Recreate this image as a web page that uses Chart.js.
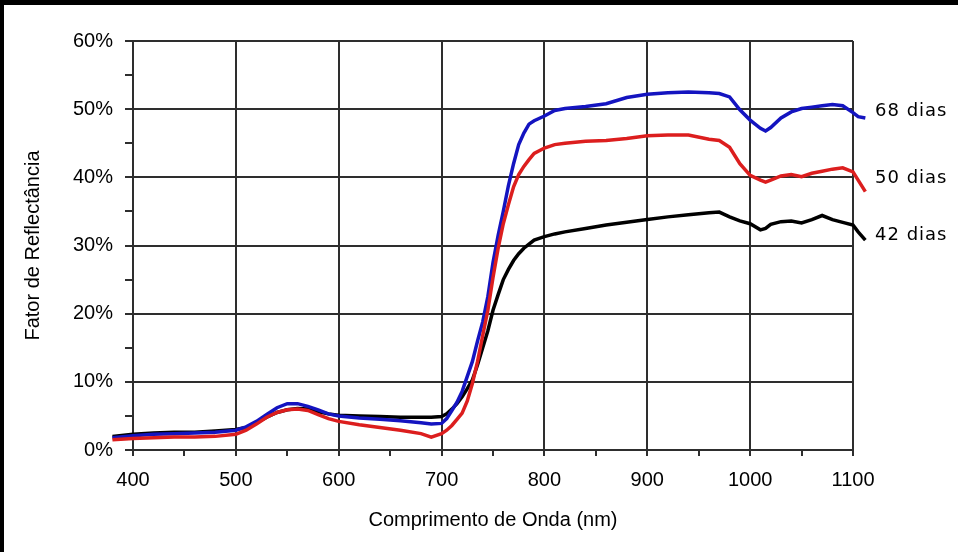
<!DOCTYPE html>
<html>
<head>
<meta charset="utf-8">
<script src="https://cdn.jsdelivr.net/npm/chart.js@4"></script>
<style>
  html, body { margin: 0; padding: 0; background: #000; width: 958px; height: 552px; overflow: hidden; }
  #wrap { position: absolute; left: 4px; top: 5px; width: 954px; height: 547px; background: #fff; }
  canvas { display: block; }
</style>
</head>
<body>
<div id="wrap"><canvas id="rChart" width="954" height="547"></canvas></div>
<script>
// Reflectance curves (%)
var wavelengths = [380, 400, 420, 440, 460, 480, 500, 510, 520, 530, 540, 550, 560, 570, 580, 590,
  600, 620, 640, 660, 680, 690, 700, 705, 710, 715, 720, 725, 730, 735, 740, 745, 750, 755, 760,
  765, 770, 775, 780, 785, 790, 800, 810, 820, 840, 860, 880, 900, 920, 940, 960, 970, 980, 990,
  1000, 1010, 1015, 1020, 1030, 1040, 1050, 1060, 1070, 1080, 1090, 1100, 1105, 1112];

var dias68 = [1.8, 2.1, 2.3, 2.4, 2.5, 2.6, 2.9, 3.4, 4.2, 5.2, 6.2, 6.8, 6.8, 6.4, 5.9, 5.3,
  5.0, 4.7, 4.5, 4.3, 4.0, 3.8, 3.9, 4.6, 5.8, 7.0, 8.6, 10.8, 13.0, 16.0, 18.8, 22.5, 27.5, 31.5, 35.0,
  38.8, 42.0, 44.8, 46.5, 47.8, 48.3, 49.0, 49.8, 50.1, 50.4, 50.8, 51.7, 52.2, 52.4, 52.5, 52.4, 52.3, 51.8, 49.9,
  48.4, 47.2, 46.8, 47.3, 48.7, 49.6, 50.1, 50.3, 50.5, 50.7, 50.5, 49.5, 48.9, 48.7];

var dias50 = [1.5, 1.7, 1.8, 1.9, 1.9, 2.0, 2.3, 2.9, 3.8, 4.8, 5.5, 5.9, 6.0, 5.8, 5.2, 4.6,
  4.2, 3.7, 3.3, 2.9, 2.4, 1.9, 2.4, 2.9, 3.6, 4.5, 5.4, 7.2, 9.8, 13.0, 16.8, 20.5, 25.3, 29.6, 33.2,
  36.0, 38.6, 40.4, 41.6, 42.6, 43.5, 44.3, 44.8, 45.0, 45.3, 45.4, 45.7, 46.1, 46.2, 46.2, 45.6, 45.4, 44.4, 42.0,
  40.3, 39.6, 39.3, 39.6, 40.2, 40.4, 40.1, 40.6, 40.9, 41.2, 41.4, 40.8, 39.6, 37.9];

var dias42 = [2.0, 2.3, 2.5, 2.6, 2.6, 2.8, 3.0, 3.3, 4.0, 4.8, 5.5, 5.9, 6.1, 6.0, 5.6, 5.3,
  5.1, 5.0, 4.9, 4.8, 4.8, 4.8, 4.9, 5.3, 6.0, 6.8, 7.8, 9.0, 10.3, 12.5, 15.0, 17.5, 20.5, 22.8, 25.0,
  26.5, 27.8, 28.8, 29.6, 30.2, 30.8, 31.3, 31.7, 32.0, 32.5, 33.0, 33.4, 33.8, 34.2, 34.5, 34.8, 34.9, 34.2, 33.6,
  33.2, 32.3, 32.5, 33.1, 33.5, 33.6, 33.3, 33.8, 34.4, 33.8, 33.4, 33.0, 32.0, 30.8];

var seriesNames = ['50 dias', '68 dias', '42 dias'];

function toPoints(values) {
  return wavelengths.map(function(w, i) { return { x: w, y: values[i] }; });
}

var gridColor = '#2e2e2e';
var textFont = { family: "'Liberation Sans', Arial, sans-serif", size: 20 };

// writes the "xx dias" name to the right of each curve
var endLabels = {
  id: 'endLabels',
  afterDatasetsDraw: function(chart, args, opts) {
    var ctx = chart.ctx;
    var yScale = chart.scales.y;
    ctx.save();
    ctx.font = "18px 'DejaVu Sans', Verdana, sans-serif";
    ctx.letterSpacing = '1px';
    ctx.fillStyle = '#000';
    ctx.textAlign = 'left';
    ctx.textBaseline = 'middle';
    chart.data.datasets.forEach(function(ds, i) {
      ctx.fillText(ds.label, chart.chartArea.right + opts.gap, yScale.getPixelForValue(opts.at[i]));
    });
    ctx.restore();
  }
};

var ctx = document.getElementById('rChart').getContext('2d');
var rChart = new Chart(ctx, {
  type: 'line',
  data: {
    datasets: [{
      label: seriesNames[0],
      data: toPoints(dias50),
      borderColor: '#dc1e1e',
      borderWidth: 3.5,
      pointRadius: 0,
      clip: false
    }, {
      label: seriesNames[1],
      data: toPoints(dias68),
      borderColor: '#1414c0',
      borderWidth: 3.5,
      pointRadius: 0,
      clip: false
    }, {
      label: seriesNames[2],
      data: toPoints(dias42),
      borderColor: '#000000',
      borderWidth: 3.5,
      pointRadius: 0,
      clip: false
    }]
  },
  options: {
    responsive: false,
    animation: false,
    layout: {
      padding: { left: 0, top: 36, right: 105, bottom: 0 }
    },
    plugins: {
      legend: { display: false },
      tooltip: { enabled: false },
      endLabels: { gap: 22, at: [39.9, 49.7, 31.5] }
    },
    scales: {
      x: {
        type: 'linear',
        afterDataLimits: function(scale) {
          scale.min = 400;
          scale.max = 1100;
        },
        afterFit: function(scale) {
          scale.height = 102;
          scale.paddingLeft = 0;
          scale.paddingRight = 0;
        },
        ticks: {
          stepSize: 50,
          autoSkip: false,
          maxRotation: 0,
          padding: 12,
          color: '#000',
          font: textFont,
          callback: function(value) {
            return value % 100 === 0 ? String(value) : '';
          }
        },
        grid: {
          color: function(c) {
            return c.tick && c.tick.value % 100 === 0 ? gridColor : 'rgba(0,0,0,0)';
          },
          tickColor: gridColor,
          lineWidth: 2,
          tickLength: 6
        },
        border: { display: true, color: gridColor, width: 2 },
        title: {
          display: true,
          text: 'Comprimento de Onda (nm)',
          color: '#000',
          font: textFont,
          padding: { top: 0, bottom: 20 }
        }
      },
      y: {
        min: 0,
        max: 60,
        afterFit: function(scale) {
          scale.width = 129;
          scale.paddingTop = 0;
          scale.paddingBottom = 0;
        },
        ticks: {
          stepSize: 5,
          padding: 12,
          color: '#000',
          font: textFont,
          callback: function(value) {
            return value % 10 === 0 ? value + '%' : '';
          }
        },
        grid: {
          color: function(c) {
            return c.tick && c.tick.value % 10 === 0 ? gridColor : 'rgba(0,0,0,0)';
          },
          tickColor: gridColor,
          lineWidth: 2,
          tickLength: 8
        },
        border: { display: true, color: gridColor, width: 2 },
        title: {
          display: true,
          text: 'Fator de Reflectância',
          color: '#000',
          font: textFont,
          padding: { top: 17, bottom: 0 }
        }
      }
    }
  },
  plugins: [endLabels]
});
</script>
</body>
</html>
